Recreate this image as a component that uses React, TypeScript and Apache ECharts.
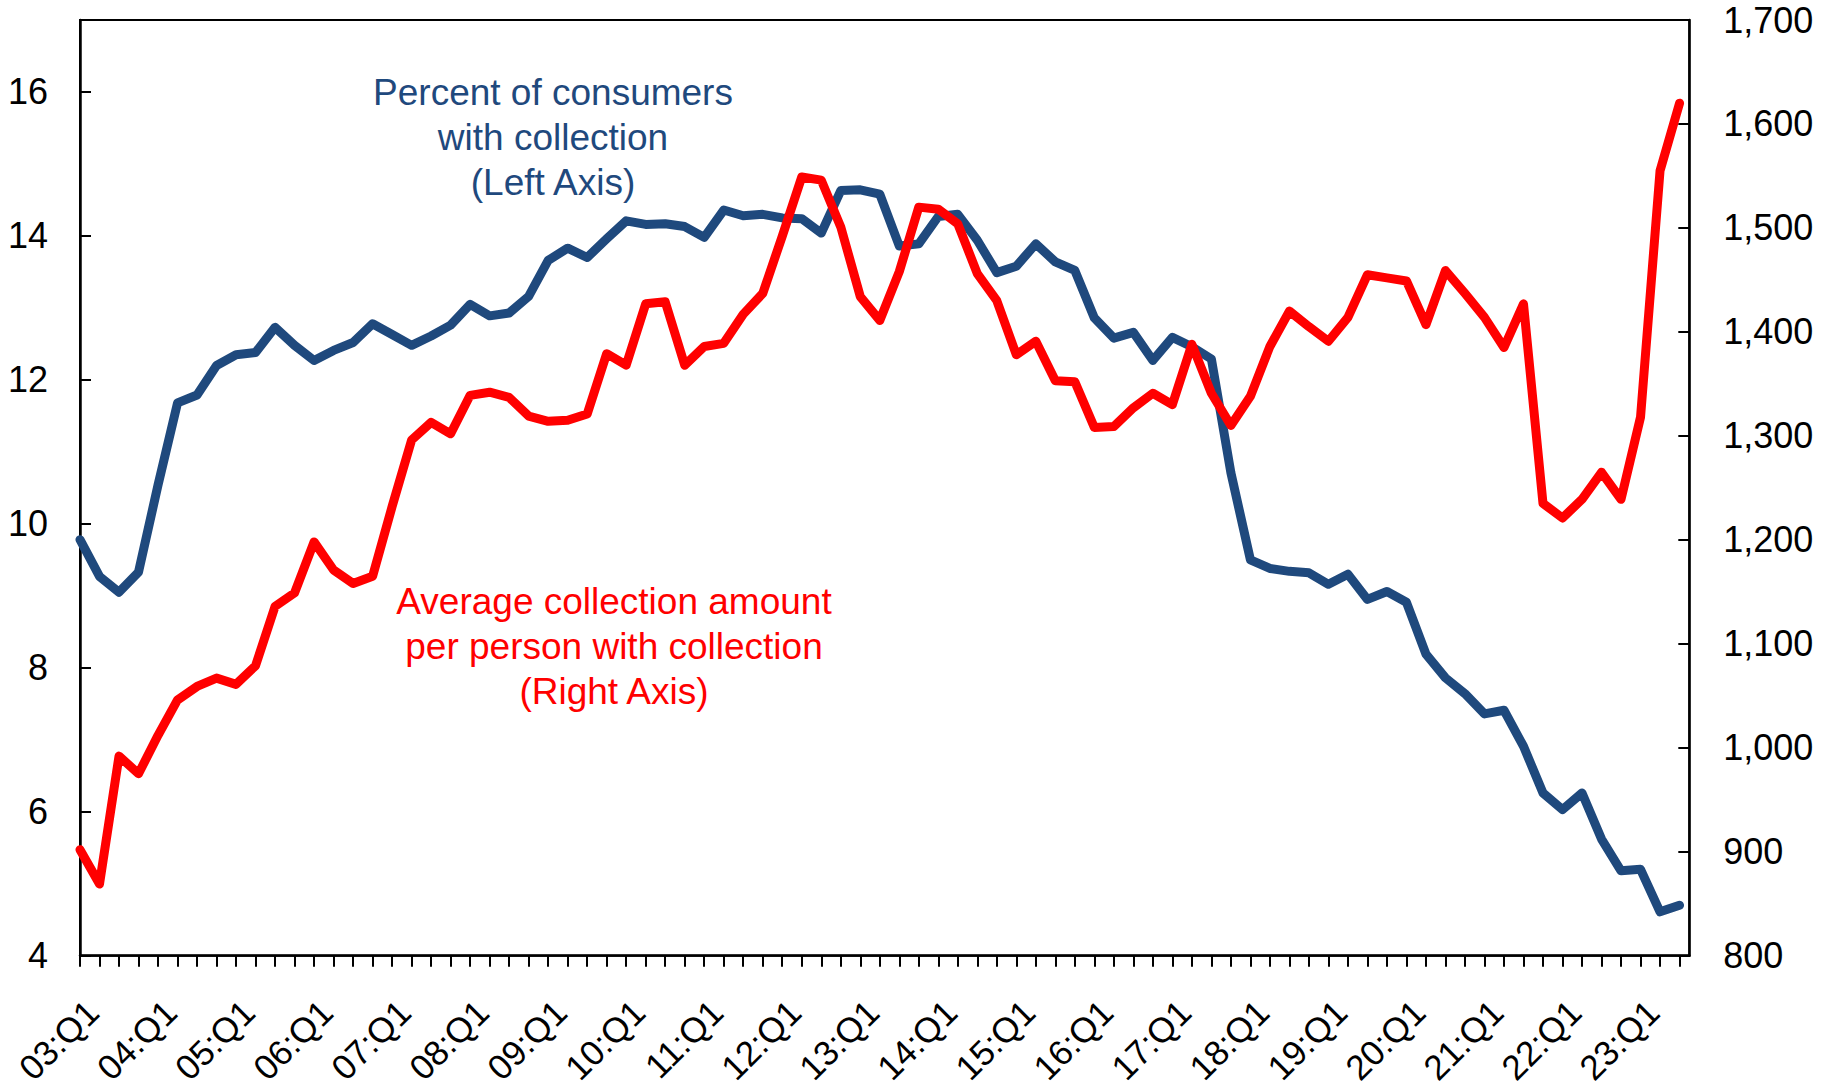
import React, { useEffect, useRef } from "react";
import * as echarts from "echarts";

const categories: string[] = [
  "03:Q1","03:Q2","03:Q3","03:Q4","04:Q1","04:Q2","04:Q3","04:Q4",
  "05:Q1","05:Q2","05:Q3","05:Q4","06:Q1","06:Q2","06:Q3","06:Q4",
  "07:Q1","07:Q2","07:Q3","07:Q4","08:Q1","08:Q2","08:Q3","08:Q4",
  "09:Q1","09:Q2","09:Q3","09:Q4","10:Q1","10:Q2","10:Q3","10:Q4",
  "11:Q1","11:Q2","11:Q3","11:Q4","12:Q1","12:Q2","12:Q3","12:Q4",
  "13:Q1","13:Q2","13:Q3","13:Q4","14:Q1","14:Q2","14:Q3","14:Q4",
  "15:Q1","15:Q2","15:Q3","15:Q4","16:Q1","16:Q2","16:Q3","16:Q4",
  "17:Q1","17:Q2","17:Q3","17:Q4","18:Q1","18:Q2","18:Q3","18:Q4",
  "19:Q1","19:Q2","19:Q3","19:Q4","20:Q1","20:Q2","20:Q3","20:Q4",
  "21:Q1","21:Q2","21:Q3","21:Q4","22:Q1","22:Q2","22:Q3","22:Q4",
  "23:Q1","23:Q2","23:Q3",
];

const labeledTicks: string[] = [
  "03:Q1","04:Q1","05:Q1","06:Q1","07:Q1","08:Q1","09:Q1","10:Q1","11:Q1","12:Q1",
  "13:Q1","14:Q1","15:Q1","16:Q1","17:Q1","18:Q1","19:Q1","20:Q1","21:Q1","22:Q1","23:Q1",
];

// Percent of consumers with collection (left axis)
const pctWithCollection: number[] = [
  9.78, 9.27, 9.05, 9.33, 10.54, 11.68, 11.79, 12.2, 12.35, 12.38,
  12.73, 12.48, 12.27, 12.41, 12.52, 12.78, 12.63, 12.48, 12.61, 12.76,
  13.05, 12.89, 12.93, 13.16, 13.66, 13.83, 13.7, 13.96, 14.21, 14.16,
  14.17, 14.13, 13.98, 14.36, 14.28, 14.3, 14.25, 14.24, 14.04, 14.63,
  14.64, 14.58, 13.86, 13.89, 14.27, 14.3, 13.94, 13.49, 13.58, 13.89,
  13.64, 13.52, 12.86, 12.58, 12.66, 12.27, 12.59, 12.46, 12.29, 10.71,
  9.5, 9.38, 9.34, 9.32, 9.16, 9.3, 8.95, 9.06, 8.91, 8.19,
  7.86, 7.64, 7.36, 7.41, 6.91, 6.26, 6.03, 6.26, 5.62, 5.18,
  5.2, 4.61, 4.7,
];

// Average collection amount per person with collection (right axis)
const avgCollectionAmount: number[] = [
  902, 869, 992, 975, 1012, 1046, 1059, 1067, 1061, 1079,
  1136, 1149, 1198, 1171, 1158, 1165, 1232, 1296, 1313, 1302,
  1339, 1342, 1337, 1319, 1314, 1315, 1321, 1379, 1368, 1427,
  1429, 1368, 1386, 1389, 1417, 1437, 1492, 1549, 1546, 1501,
  1434, 1411, 1458, 1520, 1518, 1504, 1456, 1430, 1378, 1391,
  1353, 1352, 1308, 1309, 1327, 1341, 1330, 1388, 1341, 1310,
  1338, 1386, 1420, 1405, 1391, 1414, 1455, 1452, 1449, 1407,
  1459, 1437, 1414, 1385, 1427, 1235, 1221, 1239, 1265, 1239,
  1318, 1555, 1620,
];

const BLUE = "#1F497D";
const RED = "#FF0000";
const FONT = "'Liberation Sans', Arial, sans-serif";

export default function App() {
  const ref = useRef<HTMLDivElement>(null);

  useEffect(() => {
    if (!ref.current) return;
    const chart = echarts.init(ref.current, undefined, { renderer: "svg" });

    const tickIdx = categories.map((_, i) => i);
    const labelIdx = labeledTicks.map((l) => categories.indexOf(l));

    const option: any = {
      animation: false,
      backgroundColor: "#ffffff",
      grid: {
        left: 80,
        top: 20,
        right: 141.7,
        bottom: 125.7,
        show: true,
        borderColor: "#000",
        borderWidth: 2,
        backgroundColor: "transparent",
      },
      xAxis: {
        type: "value",
        min: 0,
        max: categories.length - 0.5,
        splitLine: { show: false },
        axisLine: { show: true, lineStyle: { color: "#000", width: 2.5 } },
        axisTick: {
          show: true,
          inside: false,
          length: 11,
          customValues: tickIdx,
          lineStyle: { color: "#000", width: 2 },
        },
        axisLabel: {
          customValues: labelIdx,
          rotate: 45,
          margin: 38,
          verticalAlign: "top",
          fontSize: 35,
          fontFamily: FONT,
          color: "#000",
          formatter: (v: number) => categories[Math.round(v)] ?? "",
        },
      },
      yAxis: [
        {
          type: "value",
          position: "left",
          min: 4,
          max: 17,
          interval: 2,
          splitLine: { show: false },
          axisLine: { show: true, lineStyle: { color: "#000", width: 2.5 } },
          axisTick: { show: true, inside: true, length: 11, lineStyle: { color: "#000", width: 2 } },
          axisLabel: {
            margin: 32,
            fontSize: 36,
            fontFamily: FONT,
            color: "#000",
            showMaxLabel: false,
          },
        },
        {
          type: "value",
          position: "right",
          min: 800,
          max: 1700,
          interval: 100,
          splitLine: { show: false },
          axisLine: { show: true, lineStyle: { color: "#000", width: 2.5 } },
          axisTick: { show: true, inside: true, length: 11, lineStyle: { color: "#000", width: 2 } },
          axisLabel: {
            margin: 34,
            fontSize: 36,
            fontFamily: FONT,
            color: "#000",
            formatter: (v: number) => v.toLocaleString("en-US"),
          },
        },
      ],
      series: [
        {
          name: "Percent of consumers with collection",
          type: "line",
          yAxisIndex: 0,
          symbol: "none",
          data: pctWithCollection.map((v, i) => [i, v]),
          lineStyle: { color: BLUE, width: 9, cap: "round", join: "round" },
          z: 2,
        },
        {
          name: "Average collection amount per person with collection",
          type: "line",
          yAxisIndex: 1,
          symbol: "none",
          data: avgCollectionAmount.map((v, i) => [i, v]),
          lineStyle: { color: RED, width: 9, cap: "round", join: "round" },
          z: 3,
        },
      ],
      graphic: [
        {
          type: "text",
          x: 553,
          y: 137,
          z: 10,
          style: {
            text: "Percent of consumers\nwith collection\n(Left Axis)",
            fill: BLUE,
            font: `37px ${FONT}`,
            lineHeight: 45,
            align: "center",
            verticalAlign: "middle",
          },
        },
        {
          type: "text",
          x: 614,
          y: 646,
          z: 10,
          style: {
            text: "Average collection amount\nper person with collection\n(Right Axis)",
            fill: RED,
            font: `37px ${FONT}`,
            lineHeight: 45,
            align: "center",
            verticalAlign: "middle",
          },
        },
      ],
    };

    chart.setOption(option);
    return () => chart.dispose();
  }, []);

  return (
    <div
      ref={ref}
      style={{ position: "absolute", left: 0, top: 0, width: 1831, height: 1088 }}
    />
  );
}
